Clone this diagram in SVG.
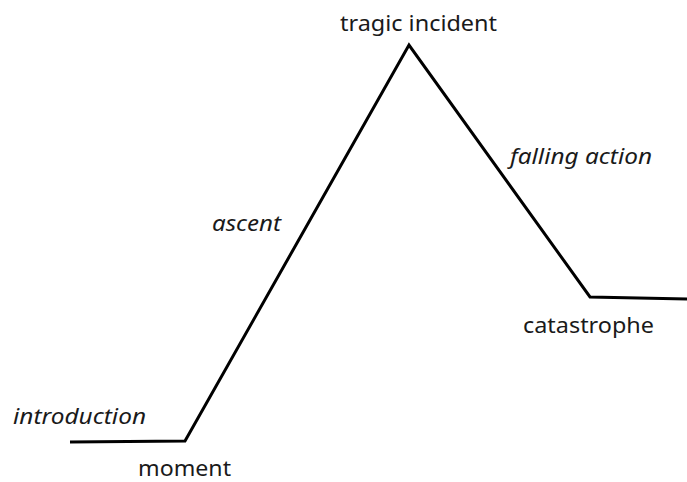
<svg xmlns="http://www.w3.org/2000/svg" width="687" height="482" viewBox="0 0 687 482">
<style>
text{font-family:"Noto Sans","Open Sans","DejaVu Sans",sans-serif;font-size:22px;fill:#1a1a1a}
.it{font-style:italic}
.ln{fill:none;stroke:#000;stroke-width:3;stroke-linejoin:miter}
</style>
<rect width="687" height="482" fill="#fff"/>
<g id="connectors">
<polyline class="ln" points="70,442 185,441 409,45 590,297 687,299"/>
</g>
<g id="tragic-incident"><text x="340" y="31" textLength="157" lengthAdjust="spacingAndGlyphs">tragic incident</text></g>
<g id="falling-action"><text class="it" x="510" y="164" textLength="142" lengthAdjust="spacingAndGlyphs">falling action</text></g>
<g id="ascent"><text class="it" x="212" y="231" textLength="69" lengthAdjust="spacingAndGlyphs">ascent</text></g>
<g id="catastrophe"><text x="523" y="333" textLength="131" lengthAdjust="spacingAndGlyphs">catastrophe</text></g>
<g id="introduction"><text class="it" x="13" y="424" textLength="133" lengthAdjust="spacingAndGlyphs">introduction</text></g>
<g id="moment"><text x="138" y="476" textLength="93" lengthAdjust="spacingAndGlyphs">moment</text></g>
</svg>
